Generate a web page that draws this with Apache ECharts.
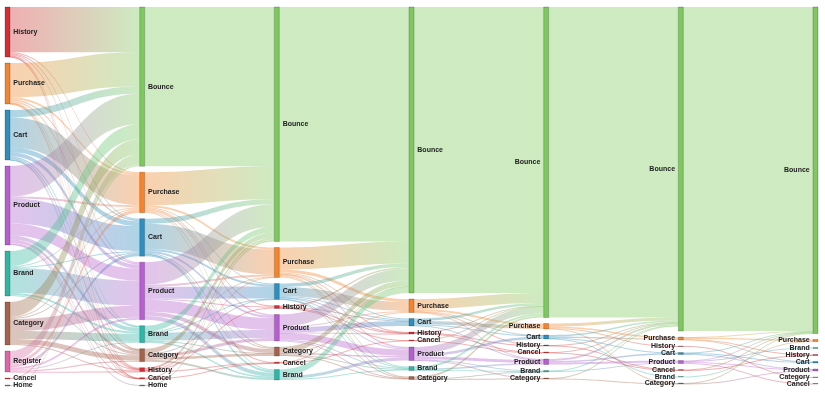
<!DOCTYPE html>
<html>
<head>
<meta charset="utf-8">
<script src="https://cdn.jsdelivr.net/npm/echarts@6/dist/echarts.min.js"></script>
<style>html,body{margin:0;padding:0;background:#fff}#c{width:825px;height:393px}</style>
</head>
<body>
<div id="c"></div>
<script>
// Node order in each step (column)
const step0 = ['History','Purchase','Cart','Product','Brand','Category','Register','Cancel','Home'];
const step1 = ['Bounce','Purchase','Cart','Product','Brand','Category','History','Cancel','Home'];
const step2 = ['Bounce','Purchase','Cart','History','Product','Category','Cancel','Brand'];
const step3 = ['Bounce','Purchase','Cart','History','Cancel','Product','Brand','Category'];
const step4 = ['Bounce','Purchase','Cart','History','Cancel','Product','Brand','Category'];
const step5 = ['Bounce','Purchase','History','Cart','Product','Cancel','Brand','Category'];
const step6 = ['Bounce','Purchase','Brand','History','Cart','Product','Category','Cancel'];

// Flows between consecutive steps: [source, target, sessions]
const flows01 = [
  ['History','Bounce',452],['History','Purchase',10],['History','Cart',10],['History','Product',10],['History','Category',7],['History','History',8],['History','Cancel',3],
  ['Purchase','Bounce',343],['Purchase','Purchase',20],['Purchase','Cart',15],['Purchase','Product',15],['Purchase','Brand',5],['Purchase','Category',5],['Purchase','History',5],['Purchase','Cancel',2],
  ['Cart','Bounce',72],['Cart','Purchase',300],['Cart','Cart',50],['Cart','Product',40],['Cart','Brand',15],['Cart','Category',15],['Cart','History',5],['Cart','Cancel',3],
  ['Product','Bounce',305],['Product','Purchase',20],['Product','Cart',250],['Product','Product',120],['Product','Brand',40],['Product','Category',30],['Product','History',10],['Product','Cancel',5],['Product','Home',10],
  ['Brand','Bounce',150],['Brand','Purchase',10],['Brand','Cart',10],['Brand','Product',250],['Brand','Brand',20],['Brand','Category',10],
  ['Category','Bounce',150],['Category','Purchase',10],['Category','Cart',10],['Category','Product',120],['Category','Brand',80],['Category','Category',50],['Category','History',10],
  ['Register','Bounce',100],['Register','Purchase',35],['Register','Cart',30],['Register','Product',20],['Register','Brand',10],['Register','Category',13],['Register','History',2],
  ['Cancel','Bounce',10],
  ['Home','Bounce',10]
];
const flows12 = [
  ['Bounce','Bounce',1592],
  ['Purchase','Bounce',330],['Purchase','Purchase',20],['Purchase','Cart',10],['Purchase','History',10],['Purchase','Product',15],['Purchase','Category',10],['Purchase','Brand',10],
  ['Cart','Bounce',50],['Cart','Purchase',250],['Cart','Cart',20],['Cart','Product',20],['Cart','Category',10],['Cart','Brand',20],['Cart','Cancel',5],
  ['Product','Bounce',225],['Product','Purchase',20],['Product','Cart',120],['Product','History',10],['Product','Product',120],['Product','Category',40],['Product','Brand',40],
  ['Brand','Bounce',60],['Brand','Purchase',5],['Brand','Cart',5],['Brand','Product',80],['Brand','Category',5],['Brand','Brand',15],
  ['Category','Bounce',50],['Category','Cart',5],['Category','Product',30],['Category','Category',25],['Category','Brand',20],
  ['History','Bounce',20],['History','Purchase',5],['History','History',10],['History','Cancel',5],
  ['Cancel','Bounce',8],['Cancel','Cancel',5],
  ['Home','Bounce',10]
];
const flows23 = [
  ['Bounce','Bounce',2345],
  ['Purchase','Bounce',220],['Purchase','Purchase',30],['Purchase','Cart',10],['Purchase','History',5],['Purchase','Product',15],['Purchase','Brand',10],['Purchase','Category',10],
  ['Cart','Bounce',35],['Cart','Purchase',90],['Cart','Cart',10],['Cart','History',5],['Cart','Product',10],['Cart','Brand',5],['Cart','Category',5],
  ['History','Bounce',15],['History','History',5],['History','Cancel',5],['History','Cart',5],
  ['Product','Bounce',120],['Product','Purchase',10],['Product','Cart',50],['Product','History',5],['Product','Product',65],['Product','Brand',10],['Product','Category',5],
  ['Category','Bounce',55],['Category','Purchase',5],['Category','Product',15],['Category','Brand',5],['Category','Category',10],
  ['Cancel','Bounce',5],['Cancel','Cancel',5],
  ['Brand','Bounce',65],['Brand','Product',30],['Brand','Brand',10]
];
const flows34 = [
  ['Bounce','Bounce',2860],
  ['Purchase','Bounce',100],['Purchase','Purchase',20],['Purchase','Cart',5],['Purchase','History',5],['Purchase','Product',5],
  ['Cart','Bounce',25],['Cart','Purchase',35],['Cart','Cart',10],['Cart','Product',5],
  ['History','Bounce',5],['History','History',5],['History','Cancel',5],
  ['Cancel','Bounce',5],['Cancel','Cancel',5],
  ['Product','Bounce',70],['Product','Cart',25],['Product','Product',30],['Product','Brand',5],['Product','Category',5],
  ['Brand','Bounce',20],['Brand','Product',15],['Brand','Brand',5],
  ['Category','Bounce',20],['Category','Category',5],['Category','Brand',5]
];
const flows45 = [
  ['Bounce','Bounce',3105],
  ['Purchase','Bounce',30],['Purchase','Purchase',15],['Purchase','History',5],['Purchase','Category',5],
  ['Cart','Bounce',15],['Cart','Purchase',15],['Cart','Cart',5],['Cart','Brand',5],
  ['History','Bounce',5],['History','Cancel',5],
  ['Cancel','Bounce',5],['Cancel','Cancel',5],
  ['Product','Bounce',20],['Product','Cart',15],['Product','Product',20],
  ['Brand','Bounce',5],['Brand','Product',10],
  ['Category','Bounce',5],['Category','Category',5]
];
const flows56 = [
  ['Bounce','Bounce',3240],
  ['Purchase','Bounce',5],['Purchase','Purchase',15],['Purchase','History',5],['Purchase','Cart',5],
  ['History','Category',5],
  ['Cart','Bounce',5],['Cart','Cart',10],['Cart','Product',5],
  ['Product','Bounce',5],['Product','Brand',10],['Product','Product',10],['Product','Cancel',5],
  ['Cancel','Bounce',5],['Cancel','History',5],
  ['Brand','Purchase',5],
  ['Category','Bounce',5],['Category','Product',5]
];

const steps = [step0, step1, step2, step3, step4, step5, step6];
const flows = [flows01, flows12, flows23, flows34, flows45, flows56];

const colors = {
  History:'#d62d35', Purchase:'#f5842d', Cart:'#2d8fbd', Product:'#b65fcf',
  Brand:'#2db7a7', Category:'#a5634b', Register:'#e063ac', Cancel:'#d63a3a',
  Home:'#7f7f7f', Bounce:'#7dc95e'
};

const nodes = [];
steps.forEach((names, d) => {
  names.forEach(n => {
    nodes.push({
      name: d + '|' + n,
      depth: d,
      itemStyle: { color: colors[n] },
      label: { position: d >= 4 ? 'left' : 'right' }
    });
  });
});
const links = [];
flows.forEach((list, d) => {
  list.forEach(([s, t, v]) => {
    links.push({ source: d + '|' + s, target: (d + 1) + '|' + t, value: v });
  });
});

const chart = echarts.init(document.getElementById('c'), null, { renderer: 'canvas' });
chart.setOption({
  animation: false,
  series: [{
    type: 'sankey',
    left: 5, right: 7, top: 7, bottom: 7,
    nodeWidth: 5,
    nodeGap: 6,
    layoutIterations: 0,
    nodeAlign: 'left',
    draggable: false,
    emphasis: { disabled: true },
    data: nodes,
    links: links,
    itemStyle: { borderWidth: 0.6, borderColor: 'rgba(0,0,0,0.35)' },
    lineStyle: { color: 'gradient', opacity: 0.38, curveness: 0.5 },
    label: {
      fontSize: 7,
      fontWeight: 'bold',
      color: '#222',
      fontFamily: 'Liberation Sans, Arial, sans-serif',
      distance: 3,
      formatter: p => p.name.split('|')[1]
    }
  }]
});
</script>
</body>
</html>
